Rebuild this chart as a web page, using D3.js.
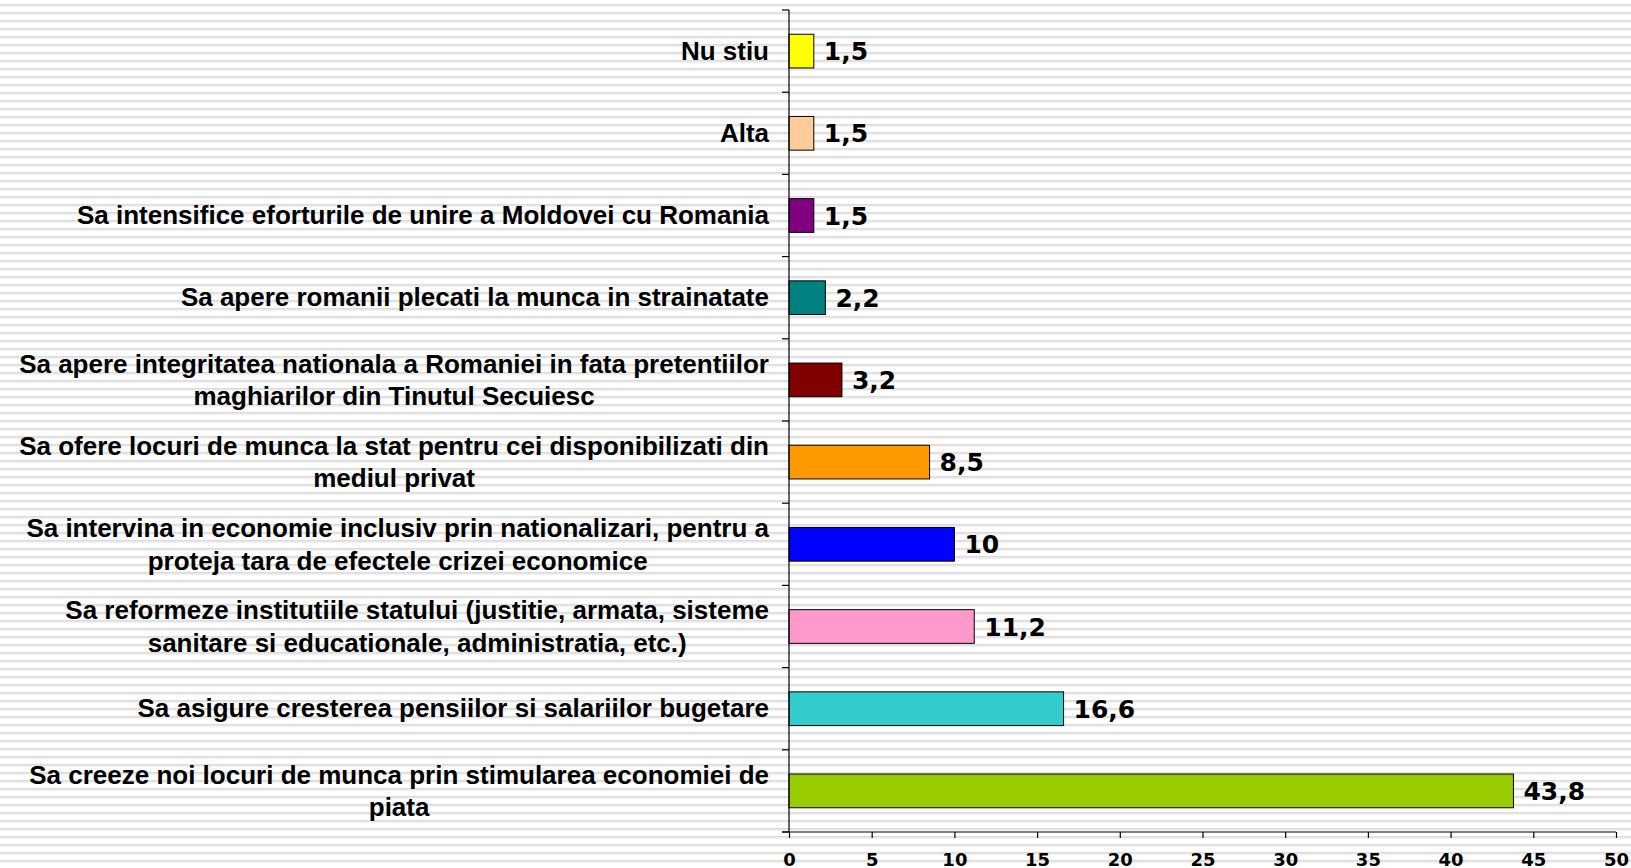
<!DOCTYPE html>
<html>
<head>
<meta charset="utf-8">
<script src="https://cdn.jsdelivr.net/npm/d3@7"></script>
<style>
  html, body { margin: 0; padding: 0; background: #fff; }
  svg { display: block; }
</style>
</head>
<body>
<svg id="chart" width="1631" height="868"></svg>
<script>
// Categories listed bottom to top
const categories = [
  "Sa creeze noi locuri de munca prin stimularea economiei de\npiata",
  "Sa asigure cresterea pensiilor si salariilor bugetare",
  "Sa reformeze institutiile statului (justitie, armata, sisteme\nsanitare si educationale, administratia, etc.)",
  "Sa intervina in economie inclusiv prin nationalizari, pentru a\nproteja tara de efectele crizei economice",
  "Sa ofere locuri de munca la stat pentru cei disponibilizati din\nmediul privat",
  "Sa apere integritatea nationala a Romaniei in fata pretentiilor\nmaghiarilor din Tinutul Secuiesc",
  "Sa apere romanii plecati la munca in strainatate",
  "Sa intensifice eforturile de unire a Moldovei cu Romania",
  "Alta",
  "Nu stiu"
];
const values = [43.8, 16.6, 11.2, 10, 8.5, 3.2, 2.2, 1.5, 1.5, 1.5];
const colors = ["#99CC00", "#33CCCC", "#FF99CC", "#0000FF", "#FF9900",
                "#800000", "#008080", "#800080", "#FFCC99", "#FFFF00"];
const xTicks = [0, 5, 10, 15, 20, 25, 30, 35, 40, 45, 50];

const svg = d3.select("#chart");
const W = 1631, H = 868;

// striped background
const defs = svg.append("defs");
const pat = defs.append("pattern").attr("id", "stripes")
  .attr("patternUnits", "userSpaceOnUse").attr("width", 8).attr("height", 8)
  .attr("y", 4);
pat.append("rect").attr("width", 8).attr("height", 8).attr("fill", "#ffffff");
pat.append("rect").attr("y", 0).attr("width", 8).attr("height", 1).attr("fill", "#dcdcdc");
pat.append("rect").attr("y", 1).attr("width", 8).attr("height", 1).attr("fill", "#e6e6e6");
pat.append("rect").attr("y", 2).attr("width", 8).attr("height", 1).attr("fill", "#f1f1f1");
svg.append("rect").attr("width", W).attr("height", H).attr("fill", "url(#stripes)");

const x0 = 789, x1 = 1616, yTop = 10, yBot = 832;
const x = d3.scaleLinear().domain([0, 50]).range([x0, x1]);
const y = d3.scaleBand().domain(categories).range([yBot, yTop])
  .paddingInner(0.59).paddingOuter(0.295);

const fmt = v => String(v).replace(".", ",");

// bars
svg.append("g").selectAll("rect").data(categories).join("rect")
  .attr("x", x(0))
  .attr("y", d => y(d))
  .attr("width", (d, i) => x(values[i]) - x(0))
  .attr("height", y.bandwidth())
  .attr("fill", (d, i) => colors[i])
  .attr("stroke", "#000").attr("stroke-width", 1);

// value labels
svg.append("g").selectAll("text").data(categories).join("text")
  .attr("x", (d, i) => x(values[i]) + 10)
  .attr("y", d => y(d) + y.bandwidth() / 2 + 9)
  .attr("font-family", "'DejaVu Sans', Verdana, sans-serif")
  .attr("font-weight", "bold").attr("font-size", 25)
  .attr("fill", "#000")
  .text((d, i) => fmt(values[i]));

// x axis
const xAxis = d3.axisBottom(x).tickValues(xTicks).tickSize(6).tickSizeOuter(0).tickFormat(d3.format("d"));
const gx = svg.append("g").attr("transform", `translate(0,${yBot})`).call(xAxis);
gx.select(".domain").remove();
gx.append("line").attr("x1", x0 - 7).attr("x2", x1).attr("y1", 0).attr("y2", 0)
  .attr("stroke", "#000").attr("stroke-width", 1.2);
gx.selectAll(".tick line").attr("stroke", "#000").attr("stroke-width", 1.2);
gx.selectAll(".tick text")
  .attr("y", 0).attr("dy", 0)
  .attr("transform", "translate(0,33.5)")
  .attr("font-family", "'DejaVu Sans', Verdana, sans-serif")
  .attr("font-weight", "bold").attr("font-size", 18)
  .attr("fill", "#000");

// y axis line + ticks at band boundaries
const gy = svg.append("g");
gy.append("line").attr("x1", x0).attr("x2", x0).attr("y1", yTop).attr("y2", yBot)
  .attr("stroke", "#000").attr("stroke-width", 1.2);
const boundaries = d3.range(categories.length + 1).map(i => yBot - i * (yBot - yTop) / categories.length);
gy.selectAll("line.tk").data(boundaries).join("line").attr("class", "tk")
  .attr("x1", x0 - 7).attr("x2", x0).attr("y1", d => d).attr("y2", d => d)
  .attr("stroke", "#000").attr("stroke-width", 1.2);

// category labels
const labelRight = 769, fs = 26, lh = 32.6;
const lg = svg.append("g")
  .attr("font-family", "'Liberation Sans', Arial, sans-serif")
  .attr("font-weight", "bold").attr("font-size", fs).attr("fill", "#000");
categories.forEach(c => {
  const lines = c.split("\n");
  const cy = y(c) + y.bandwidth() / 2;
  if (lines.length === 1) {
    lg.append("text").attr("x", labelRight).attr("y", cy + 8.5)
      .attr("text-anchor", "end").text(lines[0]);
  } else {
    const t1 = lg.append("text").attr("x", labelRight).attr("y", cy + 9 - lh / 2)
      .attr("text-anchor", "end").text(lines[0]);
    const w1 = t1.node().getComputedTextLength();
    lg.append("text").attr("x", labelRight - w1 / 2).attr("y", cy + 9 + lh / 2)
      .attr("text-anchor", "middle").text(lines[1]);
  }
});
</script>
</body>
</html>
